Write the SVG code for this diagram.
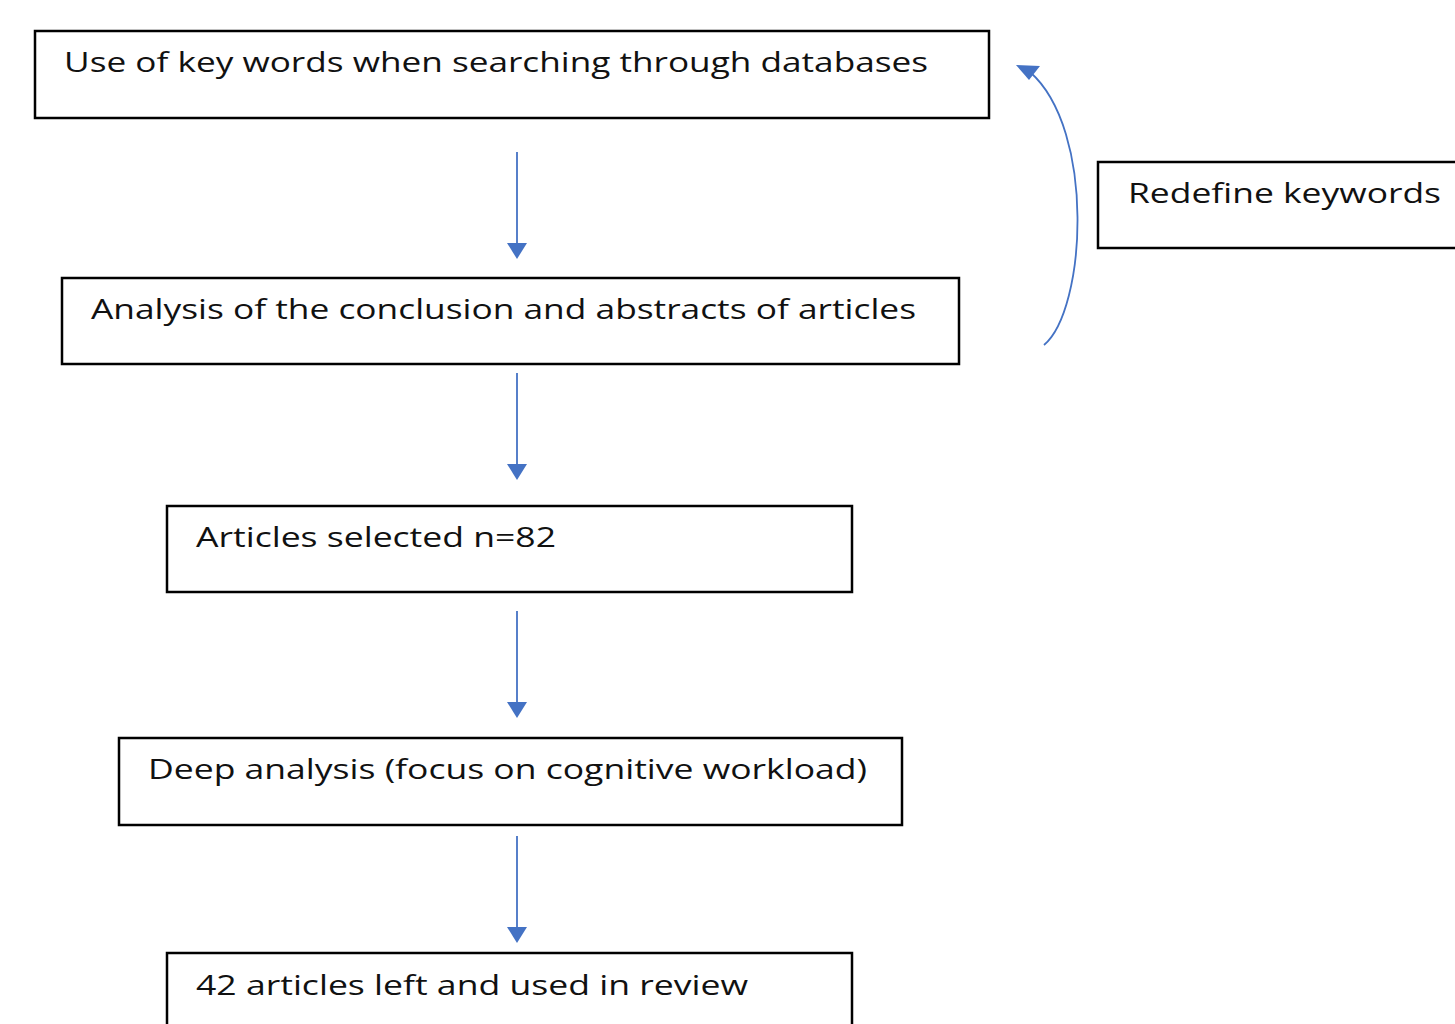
<svg xmlns="http://www.w3.org/2000/svg" width="1455" height="1024" viewBox="0 0 1455 1024">
<style>
.box{fill:#fff;stroke:#000;stroke-width:2.5}
.t{font-family:"Open Sans","Noto Sans",sans-serif;font-size:28px;fill:#111}
.c{fill:none;stroke:#4472C4;stroke-width:1.8}
</style>
<rect width="1455" height="1024" fill="#fff"/>
<g id="n1"><rect class="box" x="35" y="31" width="954" height="87"/><text class="t" x="64" y="72" textLength="864" lengthAdjust="spacingAndGlyphs">Use of key words when searching through databases</text></g>
<g id="n2"><rect class="box" x="62" y="278" width="897" height="86"/><text class="t" x="91" y="319" textLength="825" lengthAdjust="spacingAndGlyphs">Analysis of the conclusion and abstracts of articles</text></g>
<g id="n3"><rect class="box" x="167" y="506" width="685" height="86"/><text class="t" x="196" y="547" textLength="360" lengthAdjust="spacingAndGlyphs">Articles selected n=82</text></g>
<g id="n4"><rect class="box" x="119" y="738" width="783" height="87"/><text class="t" x="148" y="779" textLength="719" lengthAdjust="spacingAndGlyphs">Deep analysis (focus on cognitive workload)</text></g>
<g id="n5"><rect class="box" x="167" y="953" width="685" height="90"/><text class="t" x="196" y="995" textLength="552" lengthAdjust="spacingAndGlyphs">42 articles left and used in review</text></g>
<g id="n6"><rect class="box" x="1098" y="162" width="370" height="86"/><text class="t" x="1128" y="203" textLength="313" lengthAdjust="spacingAndGlyphs">Redefine keywords</text></g>
<g id="connectors">
<g fill="#4472C4">
<line class="c" x1="517" y1="152" x2="517" y2="244"/><path d="M507,243 L527,243 L517,259 z"/>
<line class="c" x1="517" y1="373" x2="517" y2="465"/><path d="M507,464 L527,464 L517,480 z"/>
<line class="c" x1="517" y1="611" x2="517" y2="703"/><path d="M507,702 L527,702 L517,718 z"/>
<line class="c" x1="517" y1="836" x2="517" y2="928"/><path d="M507,927 L527,927 L517,943 z"/>
</g>
<path class="c" d="M1044,345 C1086,310 1096,130 1030,72"/>
<path d="M1016,65 L1040,66 L1029,80 z" fill="#4472C4"/>
</g>
</svg>
